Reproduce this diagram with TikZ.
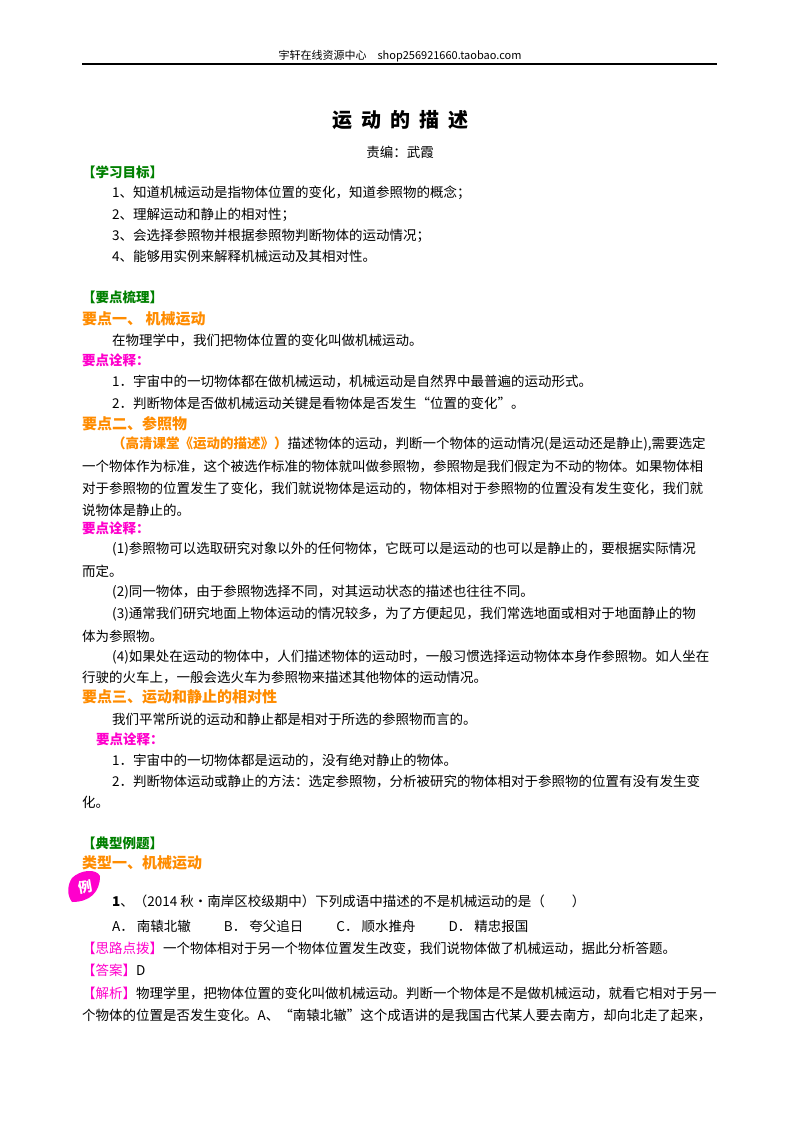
\documentclass[tikz,border=0pt]{standalone}
\usepackage{fontspec}
\setmainfont{Noto Sans CJK SC}
\XeTeXlinebreaklocale "zh"
\XeTeXlinebreakskip=0pt plus 3pt
\definecolor{hgreen}{RGB}{0,128,0}
\definecolor{horange}{RGB}{255,140,0}
\definecolor{hmag}{RGB}{255,0,204}
\newcommand{\fl}[2]{\makebox[#1pt][s]{#2}}
\begin{document}
\begin{tikzpicture}[x=1pt,y=-1pt,
  every node/.style={inner sep=0pt,anchor=west,font=\fontsize{13.5}{15}\selectfont},
  grn/.style={text=hgreen,font=\fontsize{13.5}{15}\selectfont\bfseries},
  org/.style={text=horange,font=\fontsize{15}{17}\selectfont\bfseries},
  mag/.style={text=hmag,font=\fontsize{13.5}{15}\selectfont\bfseries}]
\useasboundingbox (0,0) rectangle (800,1132);
\fill[white] (0,0) rectangle (800,1132);
\node[anchor=center,font=\fontsize{11}{12}\selectfont] (hd) at (400,56) {宇轩在线资源中心\quad shop256921660.taobao.com};
\draw[line width=1.2pt] (82,64) -- (717,64);
\node[anchor=center,font=\fontsize{20}{22}\selectfont\bfseries] (tt) at (400,120) {运\hspace{9pt}动\hspace{9pt}的\hspace{9pt}描\hspace{9pt}述};
\node[anchor=center] (ed) at (400,152) {责编：武霞};
\node[grn] (g1) at (82,172) {【学习目标】};
\node (a1) at (112,193) {1、知道机械运动是指物体位置的变化，知道参照物的概念；};
\node (a2) at (112,215) {2、理解运动和静止的相对性；};
\node (a3) at (112,236) {3、会选择参照物并根据参照物判断物体的运动情况；};
\node (a4) at (112,256) {4、能够用实例来解释机械运动及其相对性。};
\node[grn] (g2) at (82,297) {【要点梳理】};
\node[org] (o1) at (82,319) {要点一、\ 机械运动};
\node (b1) at (112,340) {在物理学中，我们把物体位置的变化叫做机械运动。};
\node[mag] (m1) at (82,360) {要点诠释：};
\node (b2) at (112,381) {1．宇宙中的一切物体都在做机械运动，机械运动是自然界中最普遍的运动形式。};
\node (b3) at (112,403) {2．判断物体是否做机械运动关键是看物体是否发生“位置的变化”。};
\node[org] (o2) at (82,424) {要点二、参照物};
\node (c1) at (112,444) {\fl{605}{\textcolor{horange}{\bfseries（高清课堂《运动的描述》）}描述物体的运动，判断一个物体的运动情况(是运动还是静止),需要选定}};
\node (c2) at (82,466) {\fl{635}{一个物体作为标准，这个被选作标准的物体就叫做参照物，参照物是我们假定为不动的物体。如果物体相}};
\node (c3) at (82,488) {\fl{635}{对于参照物的位置发生了变化，我们就说物体是运动的，物体相对于参照物的位置没有发生变化，我们就}};
\node (c4) at (82,510) {说物体是静止的。};
\node[mag] (m2) at (82,528) {要点诠释：};
\node (d1) at (112,549) {\fl{605}{(1)参照物可以选取研究对象以外的任何物体，它既可以是运动的也可以是静止的，要根据实际情况}};
\node (d2) at (82,571) {而定。};
\node (d3) at (112,592) {(2)同一物体，由于参照物选择不同，对其运动状态的描述也往往不同。};
\node (d4) at (112,614) {\fl{605}{(3)通常我们研究地面上物体运动的情况较多，为了方便起见，我们常选地面或相对于地面静止的物}};
\node (d5) at (82,636) {体为参照物。};
\node (d6) at (112,657) {\fl{605}{(4)如果处在运动的物体中，人们描述物体的运动时，一般习惯选择运动物体本身作参照物。如人坐在}};
\node (d7) at (82,678) {行驶的火车上，一般会选火车为参照物来描述其他物体的运动情况。};
\node[org] (o3) at (82,697) {要点三、运动和静止的相对性};
\node (e1) at (112,719) {我们平常所说的运动和静止都是相对于所选的参照物而言的。};
\node[mag] (m3) at (96,739) {要点诠释：};
\node (e2) at (112,760) {1．宇宙中的一切物体都是运动的，没有绝对静止的物体。};
\node (e3) at (112,781) {\fl{592}{2．判断物体运动或静止的方法：选定参照物，分析被研究的物体相对于参照物的位置有没有发生变}};
\node (e4) at (82,802) {化。};
\node[grn] (g3) at (82,843) {【典型例题】};
\node[org] (o4) at (82,863) {类型一、机械运动};
\fill[hmag] (72,878) .. controls (80,870) and (96,868) .. (100,876) .. controls (100,892) and (90,902) .. (72,902) .. controls (66,894) and (68,884) .. (72,878) -- cycle;
\node[anchor=center,text=white,font=\fontsize{14}{15}\selectfont\bfseries,rotate=10] (li) at (85,887) {例};
\node (f1) at (112,901) {{\bfseries 1}、（2014 秋•南岸区校级期中）下列成语中描述的不是机械运动的是（\qquad ）};
\node (f2) at (112,926) {A．\ 南辕北辙\qquad\ \ B．\ 夸父追日\qquad\ \ C．\ 顺水推舟\qquad\ \ D．\ 精忠报国};
\node (f3) at (82,948) {\textcolor{hmag}{【思路点拨】}一个物体相对于另一个物体位置发生改变，我们说物体做了机械运动，据此分析答题。};
\node (f4) at (82,970) {\textcolor{hmag}{【答案】}D};
\node (f5) at (82,993) {\fl{635}{\textcolor{hmag}{【解析】}物理学里，把物体位置的变化叫做机械运动。判断一个物体是不是做机械运动，就看它相对于另一}};
\node (f6) at (82,1015) {\fl{635}{个物体的位置是否发生变化。A、“南辕北辙”这个成语讲的是我国古代某人要去南方，却向北走了起来，}};
\end{tikzpicture}
\end{document}
